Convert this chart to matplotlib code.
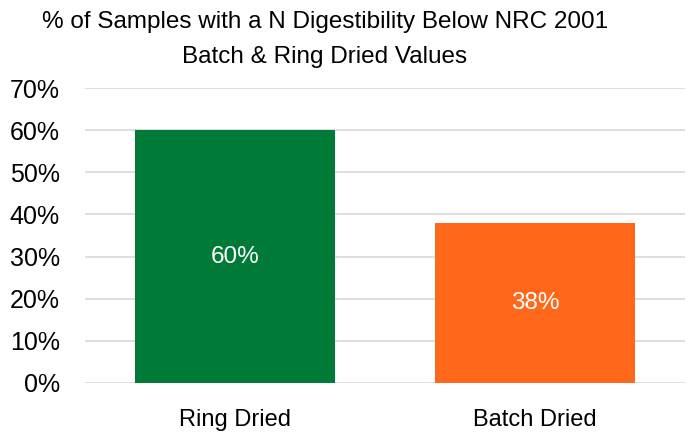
import matplotlib
matplotlib.use("Agg")
import matplotlib.pyplot as plt
from matplotlib import font_manager
from matplotlib.ticker import PercentFormatter

names = sorted({f.name for f in font_manager.fontManager.ttflist})
fam = ['Liberation Sans Narrow', 'Liberation Sans'] if 'Liberation Sans Narrow' in names else ['Liberation Sans']
plt.rcParams['font.family'] = fam

categories = ["Ring Dried", "Batch Dried"]
values = [0.60, 0.38]
colors = ["#007A37", "#FF671B"]
title_lines = ["% of Samples with a N Digestibility Below NRC 2001", "Batch & Ring Dried Values"]

fig = plt.figure(figsize=(6.91, 4.34), dpi=100)
ax = fig.add_axes([85/691, 1-383/434, 600/691, (383-88)/434])
x = list(range(len(categories)))
bars = ax.bar(x, values, width=0.667, color=colors, zorder=3)
ax.set_xlim(-0.5, 1.5)
ax.set_ylim(0, 0.7)
ax.set_yticks([i/10 for i in range(8)])
ax.yaxis.set_major_formatter(PercentFormatter(1.0, decimals=0))
ax.grid(axis='y', color='#D9D9D9', linewidth=1.2, zorder=0)
for s in ax.spines.values():
    s.set_visible(False)
ax.tick_params(axis='both', length=0, colors='black')
ax.tick_params(axis='y', pad=18, labelsize=18)
ax.tick_params(axis='x', pad=19, labelsize=17)
ax.set_xticks(x)
ax.set_xticklabels(categories)
for b, v in zip(bars, values):
    ax.text(b.get_x()+b.get_width()/2, v/2, f"{v*100:.0f}%", ha='center', va='center',
            color='white', fontsize=17.5, zorder=4)
fig.text(325/691, 1-22/434, title_lines[0], ha='center', va='center', fontsize=17.5)
fig.text(325/691, 1-57/434, title_lines[1], ha='center', va='center', fontsize=17.5)
fig.savefig("out.png", dpi=100)
